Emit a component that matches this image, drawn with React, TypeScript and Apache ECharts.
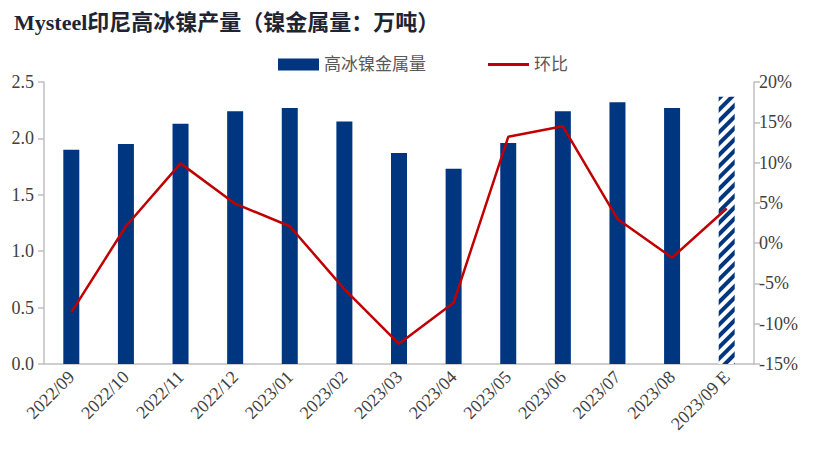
import React, { useEffect, useRef } from "react";
import * as echarts from "echarts";

const categories = [
  "2022/09", "2022/10", "2022/11", "2022/12", "2023/01", "2023/02", "2023/03",
  "2023/04", "2023/05", "2023/06", "2023/07", "2023/08", "2023/09 E",
];
const output = [1.90, 1.95, 2.13, 2.24, 2.27, 2.15, 1.87, 1.73, 1.96, 2.24, 2.32, 2.27, 2.37];
const mom = [-8.6, 2.1, 9.9, 4.9, 2.1, -5.7, -12.5, -7.4, 13.2, 14.5, 3.0, -1.8, 4.3];
const estimateIndex = 12;

const NAVY = "#003580";
const RED = "#C00000";
const AXIS = "#BFBFBF";
const LABEL = "#404040";
const SERIF = "'Liberation Serif', 'Times New Roman', 'Noto Sans CJK SC', serif";

export default function App() {
  const ref = useRef<HTMLDivElement>(null);
  useEffect(() => {
    if (!ref.current) return;
    const chart = echarts.init(ref.current, undefined, { renderer: "svg" });
    const barData = output.map((v, i) =>
      i === estimateIndex
        ? {
            value: v,
            itemStyle: {
              color: "#ffffff",
              decal: {
                symbol: "rect",
                symbolSize: 1,
                color: NAVY,
                backgroundColor: "#ffffff",
                dashArrayX: [1, 0],
                dashArrayY: [4, 4],
                rotation: -Math.PI / 4,
              },
            },
          }
        : v
    );
    chart.setOption({
      animation: false,
      backgroundColor: "#ffffff",
      title: {
        text: "Mysteel印尼高冰镍产量（镍金属量：万吨）",
        left: 9,
        top: 6,
        textStyle: {
          fontFamily: SERIF,
          fontWeight: "bold",
          fontSize: 22,
          color: "#1e2433",
        },
      },
      legend: {
        left: 273,
        top: 51,
        itemWidth: 41,
        itemHeight: 12,
        itemGap: 62,
        textStyle: { fontFamily: SERIF, fontSize: 17, color: "#595959" },
        data: [
          { name: "高冰镍金属量", icon: "rect" },
          { name: "环比", icon: "path://M0,0 L41,0 L41,3 L0,3 Z", itemStyle: { color: RED } },
        ],
      },
      grid: { left: 44, right: 62, top: 82, bottom: 94, containLabel: false },
      xAxis: {
        type: "category",
        data: categories,
        boundaryGap: true,
        axisLine: { lineStyle: { color: AXIS, width: 1.5 } },
        axisTick: { length: 6, lineStyle: { color: AXIS, width: 1.5 } },
        axisLabel: {
          rotate: 45,
          margin: 10,
          fontFamily: SERIF,
          fontSize: 18,
          color: LABEL,
          interval: 0,
        },
      },
      yAxis: [
        {
          type: "value",
          min: 0,
          max: 2.5,
          interval: 0.5,
          axisLine: { show: true, lineStyle: { color: AXIS, width: 1.5 } },
          axisTick: { show: true, length: 6, lineStyle: { color: AXIS, width: 1.5 } },
          splitLine: { show: false },
          axisLabel: {
            margin: 10,
            fontFamily: SERIF,
            fontSize: 18,
            color: LABEL,
            formatter: (v: number) => v.toFixed(1),
          },
        },
        {
          type: "value",
          min: -15,
          max: 20,
          interval: 5,
          position: "right",
          axisLine: { show: true, lineStyle: { color: AXIS, width: 1.5 } },
          axisTick: { show: true, length: 6, lineStyle: { color: AXIS, width: 1.5 } },
          splitLine: { show: false },
          axisLabel: {
            margin: 5,
            fontFamily: SERIF,
            fontSize: 18,
            color: LABEL,
            formatter: "{value}%",
          },
        },
      ],
      series: [
        {
          name: "高冰镍金属量",
          type: "bar",
          yAxisIndex: 0,
          barWidth: 16,
          itemStyle: { color: NAVY },
          data: barData,
        },
        {
          name: "环比",
          type: "line",
          yAxisIndex: 1,
          symbol: "none",
          lineStyle: { color: RED, width: 2.5 },
          itemStyle: { color: RED },
          data: mom,
          z: 5,
        },
      ],
    });
    return () => chart.dispose();
  }, []);
  return (
    <div
      ref={ref}
      style={{ position: "fixed", left: 0, top: 0, width: 816, height: 458 }}
    />
  );
}
